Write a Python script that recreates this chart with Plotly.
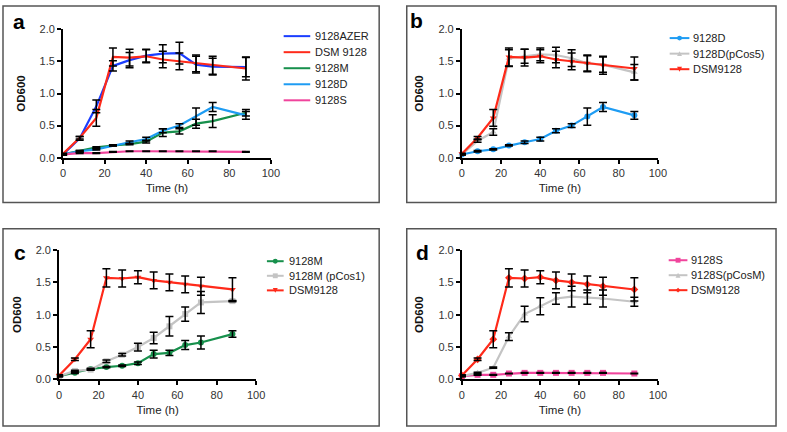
import plotly.graph_objects as go

W, H = 787, 432

time_h = [0, 8, 16, 24, 32, 40, 48, 56, 64, 72, 88]

dsm = [0.06, 0.31, 0.62, 1.57, 1.56, 1.58, 1.53, 1.50, 1.47, 1.44, 1.39]
dsm_err = [0.01, 0.02, 0.13, 0.14, 0.13, 0.10, 0.13, 0.13, 0.13, 0.14, 0.18]

azer = [0.05, 0.30, 0.80, 1.43, 1.52, 1.59, 1.62, 1.63, 1.45, 1.42, 1.41]
azer_err = [0.01, 0.03, 0.10, 0.08, 0.12, 0.10, 0.14, 0.17, 0.13, 0.13, 0.15]

strain_m = [0.05, 0.10, 0.16, 0.19, 0.21, 0.25, 0.39, 0.41, 0.53, 0.57, 0.70]
strain_m_err = [0.01, 0.01, 0.01, 0.01, 0.01, 0.02, 0.06, 0.04, 0.07, 0.10, 0.05]

strain_d = [0.05, 0.10, 0.13, 0.19, 0.24, 0.29, 0.42, 0.50, 0.64, 0.79, 0.66]
strain_d_err = [0.01, 0.01, 0.01, 0.01, 0.02, 0.03, 0.03, 0.03, 0.135, 0.07, 0.06]

strain_s = [0.05, 0.07, 0.07, 0.09, 0.10, 0.10, 0.10, 0.10, 0.10, 0.10, 0.09]
strain_s_err = [0.005] * 11

pcos5 = [0.05, 0.26, 0.40, 1.55, 1.58, 1.61, 1.60, 1.55, 1.47, 1.45, 1.33]
pcos5_err = [0.01, 0.02, 0.05, 0.13, 0.11, 0.10, 0.12, 0.13, 0.12, 0.12, 0.12]

pcos1 = [0.05, 0.13, 0.15, 0.28, 0.38, 0.50, 0.64, 0.82, 1.01, 1.19, 1.21]
pcos1_err = [0.01, 0.01, 0.01, 0.02, 0.02, 0.06, 0.09, 0.15, 0.11, 0.17, 0.01]

pcosm = [0.05, 0.10, 0.18, 0.66, 1.01, 1.13, 1.25, 1.28, 1.27, 1.25, 1.20]
pcosm_err = [0.01, 0.01, 0.01, 0.06, 0.12, 0.13, 0.09, 0.16, 0.11, 0.13, 0.07]

RED = "#ff2a1a"
BLUE = "#1a3dff"
GREEN = "#17904c"
LBLUE = "#1e9cf3"
PINK = "#f0449c"
GRAY = "#c4c4c4"
FONT = "Arial, Liberation Sans, sans-serif"

# panel: (letter, x0, x1, ytop, ybottom) in pixels
panels = [
    ("a", 61, 272, 24, 156),
    ("b", 466, 665, 24, 156),
    ("c", 57, 257, 251, 384),
    ("d", 466, 665, 251, 384),
]
boxes = [(0, 382, 0, 202), (410, 785, 0, 202), (0, 382, 229, 432), (410, 785, 229, 432)]
letters_pos = [(16, 16), (420, 15), (17, 254), (426, 254)]
# legend: line x0, line x1, text x, first row y, row step
legend_pos = [(285, 312, 316, 31, 16.5), (677, 697, 700, 33, 16),
              (268, 285, 289, 262.5, 15), (676, 695, 698, 261.5, 15.4)]

series = {
    "a": [
        ("9128AZER", azer, azer_err, BLUE, None),
        ("DSM 9128", dsm, dsm_err, RED, None),
        ("9128M", strain_m, strain_m_err, GREEN, None),
        ("9128D", strain_d, strain_d_err, LBLUE, None),
        ("9128S", strain_s, strain_s_err, PINK, None),
    ],
    "b": [
        ("9128D", strain_d, strain_d_err, LBLUE, "circle"),
        ("9128D(pCos5)", pcos5, pcos5_err, GRAY, "triangle-up"),
        ("DSM9128", dsm, dsm_err, RED, "triangle-down"),
    ],
    "c": [
        ("9128M", strain_m, strain_m_err, GREEN, "circle"),
        ("9128M (pCos1)", pcos1, pcos1_err, GRAY, "square"),
        ("DSM9128", dsm, dsm_err, RED, "triangle-down"),
    ],
    "d": [
        ("9128S", strain_s, strain_s_err, PINK, "square"),
        ("9128S(pCosM)", pcosm, pcosm_err, GRAY, "triangle-up"),
        ("DSM9128", dsm, dsm_err, RED, "diamond"),
    ],
}


def fx(x):
    return x / W


def fy(y):
    return 1 - y / H


def marker_shape(sym, cx, cy, s, col):
    h = s / 2
    if sym == "circle":
        return dict(type="circle", xref="paper", yref="paper", x0=fx(cx - h), x1=fx(cx + h),
                    y0=fy(cy + h), y1=fy(cy - h), fillcolor=col, line=dict(width=0))
    if sym == "square":
        return dict(type="rect", xref="paper", yref="paper", x0=fx(cx - h), x1=fx(cx + h),
                    y0=fy(cy + h), y1=fy(cy - h), fillcolor=col, line=dict(width=0))
    if sym == "triangle-up":
        pts = [(cx, cy - h), (cx - h, cy + h), (cx + h, cy + h)]
    elif sym == "triangle-down":
        pts = [(cx, cy + h), (cx - h, cy - h), (cx + h, cy - h)]
    else:
        pts = [(cx, cy - h), (cx + h, cy), (cx, cy + h), (cx - h, cy)]
    path = "M " + " L ".join("%f,%f" % (fx(a), fy(b)) for a, b in pts) + " Z"
    return dict(type="path", xref="paper", yref="paper", path=path,
                fillcolor=col, line=dict(width=0))


fig = go.Figure()
layout = {}
shapes = []
annotations = []

for i, (letter, x0, x1, yt, yb) in enumerate(panels):
    n = "" if i == 0 else str(i + 1)
    xa, ya = "x" + n, "y" + n
    for name, vals, err, col, sym in series[letter]:
        fig.add_trace(go.Scatter(
            x=time_h, y=vals, name=name, xaxis=xa, yaxis=ya, showlegend=False,
            mode="lines" if sym is None else "lines+markers",
            line=dict(color=col, width=2.2),
            marker=dict(symbol=sym or "circle", size=6, color=col),
            cliponaxis=False,
        ))
    # error bars on top of every line, as in the original
    for name, vals, err, col, sym in series[letter]:
        fig.add_trace(go.Scatter(
            x=time_h, y=vals, xaxis=xa, yaxis=ya, showlegend=False,
            mode="markers", marker=dict(size=1, color="rgba(0,0,0,0)"),
            error_y=dict(type="data", array=err, color="black", thickness=1.5, width=4),
            cliponaxis=False, hoverinfo="skip",
        ))
    common = dict(showline=True, linecolor="black", linewidth=2, ticks="outside",
                  ticklen=4, tickwidth=1.5, tickcolor="black", showgrid=False,
                  zeroline=False, tickfont=dict(family=FONT, size=11, color="#333"))
    layout["xaxis" + n] = dict(common, domain=[fx(x0), fx(x1)], anchor=ya,
                               range=[0, 100], dtick=20,
                               title=dict(text="Time (h)", standoff=6,
                                          font=dict(family=FONT, size=11.5, color="#222")))
    layout["yaxis" + n] = dict(common, domain=[fy(yb), fy(yt)], anchor=xa,
                               range=[0, 2], dtick=0.5, tickformat=".1f",
                               title=dict(text="<b>OD600</b>", standoff=12,
                                          font=dict(family=FONT, size=11.5, color="#111")))

    # legend drawn by hand so rows sit as tightly as in the original
    lx0, lx1, tx, ry, step = legend_pos[i]
    for k, (name, vals, err, col, sym) in enumerate(series[letter]):
        y = ry + k * step
        shapes.append(dict(type="line", xref="paper", yref="paper",
                           x0=fx(lx0), x1=fx(lx1), y0=fy(y), y1=fy(y),
                           line=dict(color=col, width=2)))
        if sym is not None:
            shapes.append(marker_shape(sym, (lx0 + lx1) / 2, y, 5, col))
        annotations.append(dict(text=name, xref="paper", yref="paper", x=fx(tx), y=fy(y),
                                xanchor="left", yanchor="middle", showarrow=False,
                                borderpad=0,
                                font=dict(family=FONT, size=11, color="#222")))

    bx0, bx1, by0, by1 = boxes[i]
    shapes.append(dict(type="rect", xref="paper", yref="paper",
                       x0=fx(bx0), x1=fx(bx1), y0=fy(by1), y1=fy(by0),
                       line=dict(color="#555", width=1.5)))
    px, py = letters_pos[i]
    annotations.append(dict(text="<b>%s</b>" % letter, xref="paper", yref="paper",
                            x=fx(px), y=fy(py), xanchor="center", yanchor="middle",
                            showarrow=False,
                            font=dict(family=FONT, size=21, color="black")))

fig.update_layout(
    width=W, height=H,
    margin=dict(l=0, r=0, t=0, b=0),
    paper_bgcolor="white", plot_bgcolor="white",
    shapes=shapes, annotations=annotations,
    **layout,
)

fig.write_html("out.html", config={"displayModeBar": False},
               post_script="document.body.style.margin='0';")
